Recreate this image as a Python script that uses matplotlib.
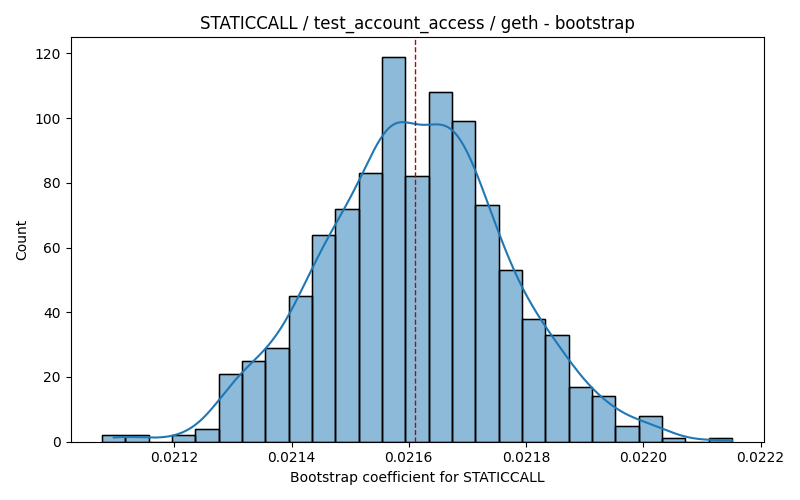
import numpy as np
import matplotlib
matplotlib.use("Agg")
import matplotlib.pyplot as plt

# Histogram
bin_left = 0.0210771
bin_right = 0.0221512
counts = [2, 2, 0, 2, 4, 21, 25, 29, 45, 64, 72, 83, 119, 82, 108, 99,
          73, 53, 38, 33, 17, 14, 5, 8, 1, 0, 1]
mean_coef = 0.0216105

edges = np.linspace(bin_left, bin_right, len(counts) + 1)
width = edges[1] - edges[0]
centers = (edges[:-1] + edges[1:]) / 2
w = np.array(counts, dtype=float)

fig, ax = plt.subplots(figsize=(8, 5), dpi=100)
ax.bar(edges[:-1], counts, width=width, align="edge",
       color="#1f77b4", alpha=0.5, edgecolor="black", linewidth=1)
ax.bar(edges[:-1], counts, width=width, align="edge",
       fill=False, edgecolor="black", linewidth=1)

# weighted gaussian kde over the binned values (Scott's rule)
n = w.sum()
mu = np.sum(w * centers) / n
sd = np.sqrt(np.sum(w * (centers - mu) ** 2) / n)
bw = sd * n ** (-1 / 5)
xs = np.linspace(centers[0], edges[-1], 400)
dens = (w[None, :] * np.exp(-0.5 * ((xs[:, None] - centers[None, :]) / bw) ** 2)).sum(1)
dens /= n * bw * np.sqrt(2 * np.pi)
ax.plot(xs, dens * n * width, color="#1f77b4", linewidth=1.5)

ax.axvline(mean_coef, color="#a01010", linestyle="--", linewidth=1)
ax.set_xticks([0.0212, 0.0214, 0.0216, 0.0218, 0.0220, 0.0222])
ax.set_xticklabels(["0.0212", "0.0214", "0.0216", "0.0218", "0.0220", "0.0222"])
ax.set_title("STATICCALL / test_account_access / geth - bootstrap")
ax.set_xlabel("Bootstrap coefficient for STATICCALL")
ax.set_ylabel("Count")
plt.tight_layout()
plt.savefig("out.png", dpi=100)
